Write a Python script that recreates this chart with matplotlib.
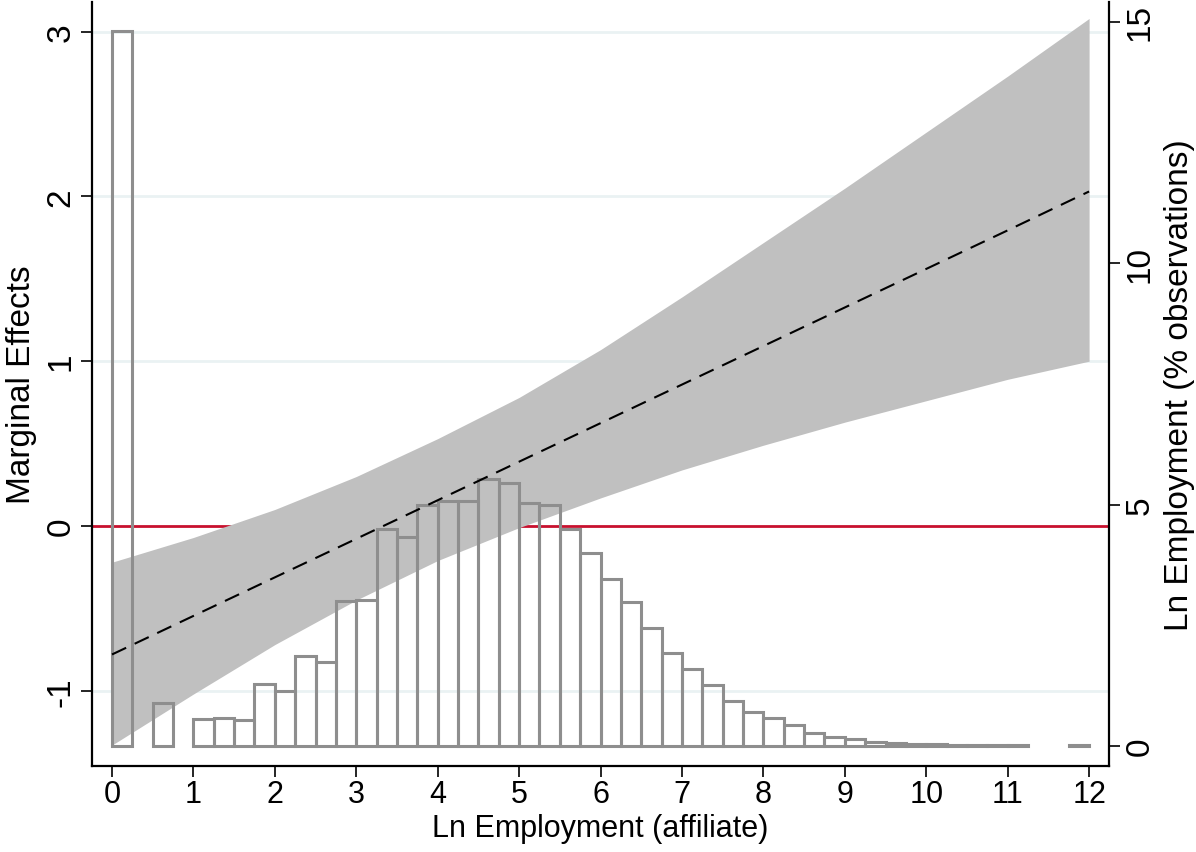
import numpy as np
import matplotlib
matplotlib.use("Agg")
import matplotlib.pyplot as plt

plt.rcParams['font.family'] = ['Liberation Sans', 'DejaVu Sans']

# predicted marginal effect and 95% CI over ln employment
x_grid = [0, 1, 2, 3, 4, 5, 6, 7, 8, 9, 10, 11, 12]
me_mean = [-0.78, -0.546, -0.312, -0.078, 0.156, 0.39, 0.624, 0.858, 1.092, 1.326, 1.56, 1.794, 2.03]
ci_upper = [-0.22, -0.07, 0.10, 0.30, 0.53, 0.78, 1.07, 1.39, 1.72, 2.05, 2.39, 2.73, 3.08]
ci_lower = [-1.33, -1.02, -0.72, -0.45, -0.21, -0.01, 0.17, 0.34, 0.49, 0.63, 0.76, 0.89, 1.00]

# histogram of ln employment (% of observations), bins of width 0.25 from 0 to 12
bin_width = 0.25
hist_pct = [14.8, 0.0, 0.89, 0.0, 0.57, 0.59, 0.54, 1.28, 1.15, 1.87,
            1.73, 3.01, 3.03, 4.50, 4.32, 4.99, 5.08, 5.08, 5.53, 5.45,
            5.03, 4.99, 4.50, 3.99, 3.45, 2.98, 2.44, 1.93, 1.60, 1.27,
            0.93, 0.70, 0.58, 0.43, 0.28, 0.19, 0.14, 0.08, 0.06, 0.05,
            0.04, 0.03, 0.03, 0.02, 0.02, 0.0, 0.0, 0.02]

x_ticks = list(range(0, 13))
me_ticks = [-1, 0, 1, 2, 3]
pct_ticks = [0, 5, 10, 15]

hist_pct = np.array(hist_pct)
bin_left = np.arange(len(hist_pct)) * bin_width
filled = hist_pct > 0  # empty bins get no outline at all

fig = plt.figure(figsize=(11.96, 8.53), dpi=100)
ax = fig.add_axes([0.0769, 0.1008, 0.8504, 0.8957])
ax2 = ax.twinx()

# left axis: marginal effects
for t in [-1, 1, 2, 3]:
    ax.axhline(t, color='#eaf2f3', lw=2, zorder=0)
ax.axhline(0, color='#c8102e', lw=2, zorder=1)
ax.fill_between(x_grid, ci_lower, ci_upper, color='#c0c0c0', lw=0, zorder=2)

# right axis: histogram drawn as outlines over the band
ax2.bar(bin_left[filled], hist_pct[filled], width=bin_width, align='edge',
        facecolor='none', edgecolor='#8e8e8e', linewidth=2.2, zorder=3)

# dashed point estimate on top of everything
ax3 = ax.twinx()
ax3.axis('off')
ax3.plot(x_grid, me_mean, color='black', lw=1.5, dashes=(7.5, 4.5), zorder=4)

ax.set_xlim(-0.246, 12.245)
ax.set_ylim(-1.457, 3.18)
ax3.set_ylim(-1.457, 3.18)
ax2.set_ylim(-0.414, 15.41)

ax.set_xticks(x_ticks)
ax.set_yticks(me_ticks)
ax2.set_yticks(pct_ticks)
ax.set_yticklabels([str(t) for t in me_ticks], rotation=90, va='center')
ax2.set_yticklabels([str(t) for t in pct_ticks], rotation=90, va='center')

for a in (ax, ax2):
    a.spines['top'].set_visible(False)
    for s in ('left', 'right', 'bottom'):
        a.spines[s].set_linewidth(1.6)
    a.tick_params(axis='both', length=8, width=1.2, direction='out')
ax.tick_params(axis='x', labelsize=22, pad=1)
ax.tick_params(axis='y', labelsize=24, pad=3)
ax2.tick_params(axis='y', labelsize=24, pad=3)
ax.spines['right'].set_visible(False)
ax2.spines['left'].set_visible(False)
ax2.spines['bottom'].set_visible(False)

ax.set_xlabel('Ln Employment (affiliate)', fontsize=22, labelpad=3)
ax.set_ylabel('Marginal Effects', fontsize=24, labelpad=6)
ax2.set_ylabel('Ln Employment (% observations)', fontsize=24, labelpad=6)

fig.savefig('out.png', dpi=100)
